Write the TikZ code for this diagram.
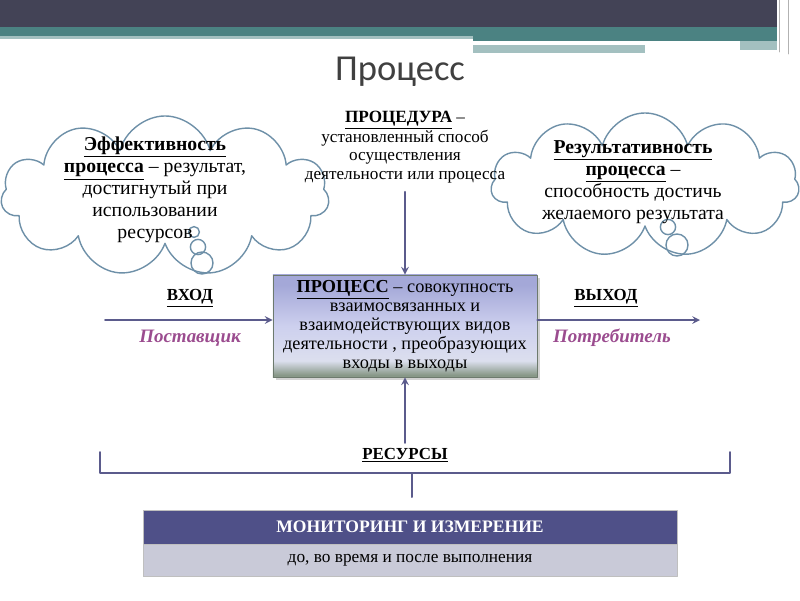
\documentclass[tikz,border=0pt]{standalone}
\usepackage{fontspec}
\setmainfont{Liberation Serif}
\newfontfamily\titlefont{Carlito}
\usetikzlibrary{shapes.symbols,shadows}
\definecolor{bardark}{HTML}{434356}
\definecolor{barteal}{HTML}{4B8282}
\definecolor{barlight}{HTML}{A3C0C0}
\definecolor{cloudline}{HTML}{6E90A8}
\definecolor{arrowcol}{HTML}{5B5B8C}
\definecolor{boxtop}{HTML}{A4A8D8}
\definecolor{boxmid}{HTML}{CDD0EE}
\definecolor{boxlow}{HTML}{DCDFEE}
\definecolor{boxbot}{HTML}{889888}
\definecolor{supplier}{HTML}{9B4C8F}
\definecolor{mondark}{HTML}{4F5088}
\definecolor{monlight}{HTML}{C9CAD8}
\pgfdeclareverticalshading{procshade}{100bp}{color(0bp)=(boxbot); color(26bp)=(boxbot); color(33bp)=(boxlow); color(50bp)=(boxmid); color(70bp)=(boxtop); color(100bp)=(boxtop)}
\begin{document}
\begin{tikzpicture}[x=0.025cm, y=-0.025cm, line cap=round, line join=round, >=stealth]
	\tikzset{cloudbox/.style={cloud, cloud puffs=11, cloud ignores aspect, draw=cloudline, line width=1pt},
		bubble/.style={circle, draw=cloudline, line width=1pt, inner sep=0pt},
		flow/.style={draw=arrowcol, line width=1.4pt},
		cloudtext/.style={align=center, font=\fontsize{14}{15.7}\selectfont},
		label style/.style={font=\fontsize{12}{14}\selectfont\bfseries},
		role/.style={font=\fontsize{13.5}{15}\selectfont\bfseries\itshape, text=supplier}}
	\useasboundingbox (0,0) rectangle (800,600);
	% banner
	\fill[bardark] (0,0) rectangle (777,27);
	\fill[barteal] (0,27) rectangle (777,36);
	\fill[barlight] (0,36) rectangle (473,39);
	\fill[barteal] (473,36) rectangle (777,41);
	\fill[barlight] (473,45) rectangle (645,53);
	\fill[barlight] (740,41) rectangle (777,50);
	\draw[gray!60, line width=0.6pt] (779,0) -- (779,52) (788,0) -- (788,54);
	\node[text=black!75] (title) at (400,72) {\titlefont\fontsize{26}{30}\selectfont Процесс};
	% clouds
	\node[cloudbox, minimum width=8.2cm, minimum height=4cm] (effcloud) at (165,196) {};
	\node[bubble, minimum size=0.27cm] (effb1) at (194,232) {};
	\node[bubble, minimum size=0.38cm] (effb2) at (198,247) {};
	\node[bubble, minimum size=0.55cm] (effb3) at (202,263) {};
	\node[cloudtext] (eff) at (155,190) {\textbf{\underline{Эффективность}}\\\textbf{\underline{процесса}} -- результат,\\достигнутый при\\использовании\\ресурсов};
	\node[cloudbox, minimum width=7.7cm, minimum height=3.6cm] (rescloud) at (645,185) {};
	\node[bubble, minimum size=0.38cm] (resb1) at (668,227) {};
	\node[bubble, minimum size=0.55cm] (resb2) at (677,245) {};
	\node[cloudtext] (res) at (633,182) {\textbf{\underline{Результативность}}\\\textbf{\underline{процесса}} --\\способность достичь\\желаемого результата};
	% procedure
	\node[align=center, font=\fontsize{12.2}{13}\selectfont] (proc) at (405,147) {\textbf{\underline{ПРОЦЕДУРА}} --\\установленный способ\\осуществления\\деятельности или процесса};
	% process
	\node[draw=boxbot!80!black, line width=0.6pt, shading=procshade, drop shadow={opacity=0.35},
		minimum width=6.6cm, minimum height=2.55cm, align=center, font=\fontsize{13}{13.6}\selectfont] (box) at (405,326)
		{\textbf{\underline{ПРОЦЕСС}} -- совокупность\\взаимосвязанных и\\взаимодействующих видов\\деятельности , преобразующих\\входы в выходы};
	\draw[flow, ->] (proc.south) ++(0,4) -- (box.north);
	% input and output
	\coordinate (in) at (105,320);
	\coordinate (out) at (700,320);
	\draw[flow, ->] (in) -- (in -| box.west);
	\draw[flow, ->] (out -| box.east) -- (out);
	\node[label style] (inlabel) at (190,298) {\underline{ВХОД}};
	\node[role] (supp) at (190,338) {Поставщик};
	\node[label style] (outlabel) at (606,298) {\underline{ВЫХОД}};
	\node[role] (cons) at (612,338) {Потребитель};
	% resources
	\node[label style] (resources) at (405,455) {\underline{РЕСУРСЫ}};
	\draw[flow, ->] (resources.north) -- (box.south);
	\coordinate (bl) at (100,452);
	\coordinate (br) at (730,452);
	\draw[flow] (bl) -- (100,473) -- (730,473) -- (br);
	\draw[flow] (412,473) -- (412,497);
	% monitoring
	\node[fill=mondark, draw=gray!50, minimum width=13.35cm, minimum height=0.85cm, text=white, font=\fontsize{12.5}{14}\selectfont\bfseries] (mon) at (410,527) {МОНИТОРИНГ И ИЗМЕРЕНИЕ};
	\node[fill=monlight, draw=gray!50, minimum width=13.35cm, minimum height=0.8cm, font=\fontsize{12.3}{13}\selectfont, anchor=north] (mondesc) at (mon.south) {до, во время и после выполнения};
\end{tikzpicture}
\end{document}
